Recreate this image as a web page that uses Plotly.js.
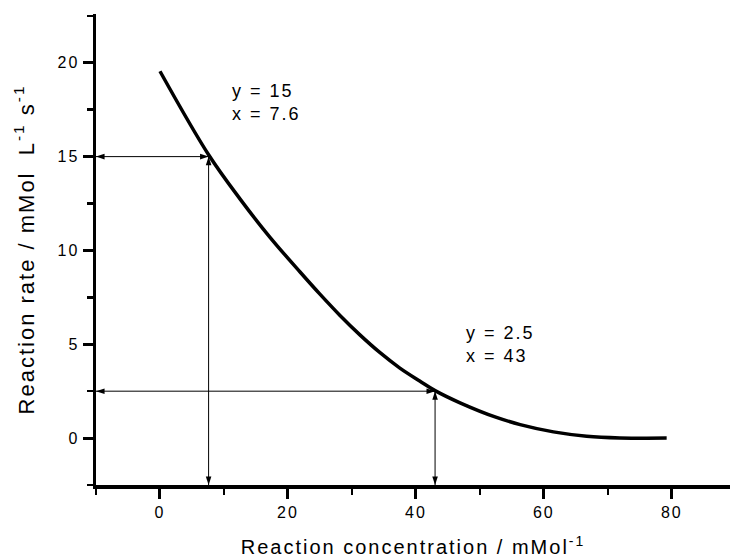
<!DOCTYPE html>
<html>
<head>
<meta charset="utf-8">
<script src="https://cdn.plot.ly/plotly-3.0.1.min.js"></script>
<style>
  html, body { margin: 0; padding: 0; background: #fff; }
  #chart { width: 730px; height: 558px; }
  .main-svg text { letter-spacing: 2px; }
</style>
</head>
<body>
<div id="chart"></div>
<script>
// Curve
var concX = [0, 7.6, 12.5, 17.2, 21.9, 25, 28.1, 31.25, 34.4, 37.5, 40.6, 43, 46.9, 52.6, 56.3, 61.5, 66.7, 71.9, 79.2];
var rateY = [19.55, 15.1, 12.75, 10.7, 8.85, 7.67, 6.55, 5.5, 4.55, 3.73, 3.04, 2.53, 1.88, 1.1, 0.72, 0.33, 0.1, 0.01, 0];

// Marked read-off points
var markX = [7.6, 43];
var markY = [15, 2.5];

// Axis ranges
var xRange = [-10, 89.1];
var yRange = [-2.5, 22.6];

var traces = [{
  x: concX, y: rateY, type: 'scatter', mode: 'lines',
  line: { color: '#000', width: 3.5, shape: 'spline', smoothing: 1 },
  hoverinfo: 'skip', showlegend: false
}];

function arrowTrace(xs, ys, angles) {
  return {
    x: xs, y: ys, type: 'scatter', mode: 'lines+markers', cliponaxis: false,
    line: { color: '#000', width: 1 },
    marker: { symbol: 'arrow', size: 9, angle: angles, color: '#000', line: { width: 0 } },
    hoverinfo: 'skip', showlegend: false
  };
}

var ann = [];
var labelPos = [[11.0, 17.9], [47.5, 5.0]];
for (var i = 0; i < markX.length; i++) {
  traces.push(arrowTrace([xRange[0], markX[i]], [markY[i], markY[i]], [-90, 90]));
  traces.push(arrowTrace([markX[i], markX[i]], [yRange[0], markY[i]], [180, 0]));
  ann.push({
    x: labelPos[i][0], y: labelPos[i][1], xref: 'x', yref: 'y',
    xanchor: 'left', yanchor: 'middle', align: 'left', showarrow: false,
    text: 'y = ' + markY[i] + '<br>x = ' + markX[i],
    font: { family: 'Liberation Sans, Arial, sans-serif', size: 18, color: '#000' }
  });
}

var axisCommon = {
  showgrid: false, zeroline: false, showline: true, linecolor: '#000', linewidth: 3.5,
  ticks: 'outside', ticklen: 10, tickwidth: 3, tickcolor: '#000',
  tickfont: { family: 'Liberation Sans, Arial, sans-serif', size: 16, color: '#000' },
  mirror: false, automargin: false, fixedrange: true
};

var layout = {
  width: 730, height: 558,
  margin: { l: 96, r: 0, t: 14, b: 73, pad: 0 },
  paper_bgcolor: '#fff', plot_bgcolor: '#fff',
  showlegend: false,
  xaxis: Object.assign({}, axisCommon, {
    range: xRange, tickmode: 'linear', tick0: 0, dtick: 20,
    minor: { dtick: 10, ticks: 'outside', ticklen: 6, tickwidth: 2.5, tickcolor: '#000', showgrid: false },
    title: { text: 'Reaction concentration / mMol<sup>-1</sup>', standoff: 24,
      font: { family: 'Liberation Sans, Arial, sans-serif', size: 20, color: '#000' } }
  }),
  yaxis: Object.assign({}, axisCommon, {
    range: yRange, tickmode: 'linear', tick0: 0, dtick: 5,
    minor: { dtick: 2.5, ticks: 'outside', ticklen: 6, tickwidth: 2.5, tickcolor: '#000', showgrid: false },
    title: { text: 'Reaction rate / mMol  L<sup>-1</sup> s<sup>-1</sup>', standoff: 22,
      font: { family: 'Liberation Sans, Arial, sans-serif', size: 22, color: '#000' } }
  }),
  annotations: ann
};

Plotly.newPlot('chart', traces, layout, { displayModeBar: false, staticPlot: true });
</script>
</body>
</html>
